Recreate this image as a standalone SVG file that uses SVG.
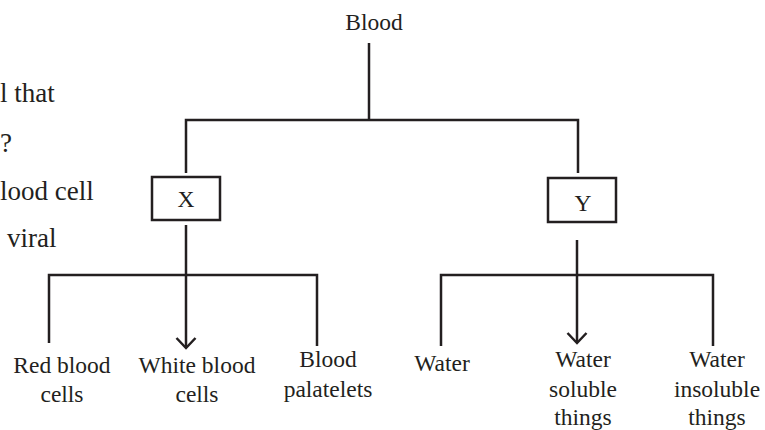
<svg xmlns="http://www.w3.org/2000/svg" width="765" height="430" viewBox="0 0 765 430">
<style>
text{font-family:'Liberation Serif','DejaVu Serif','Times New Roman',Times,serif;fill:#231f20}
.lb{font-size:23.5px;text-anchor:middle}
.side{font-size:27px}
.ln{stroke:#231f20;stroke-width:2.5;fill:none}
.box{stroke:#231f20;stroke-width:2.5;fill:#fff}
</style>
<defs>
<marker id="arr" viewBox="-12 -12 24 24" markerWidth="24" markerHeight="24" refX="0" refY="0" orient="auto" markerUnits="userSpaceOnUse">
<path d="M-10,-9.5 L0,0 L-10,9.5" fill="none" stroke="#231f20" stroke-width="2.5"/>
</marker>
</defs>
<rect width="765" height="430" fill="#fff"/>
<g id="side-text">
<text class="side" x="0" y="102" font-family="Liberation Serif, serif">l that</text>
<text class="side" x="0" y="152" font-family="Liberation Serif, serif">?</text>
<text class="side" x="0" y="200" font-family="Liberation Serif, serif">lood cell</text>
<text class="side" x="7" y="247" font-family="Liberation Serif, serif">viral</text>
</g>
<g id="connectors">
<line class="ln" x1="369" y1="43" x2="369" y2="120"/>
<polyline class="ln" points="186,173 186,120 578,120 578,173"/>
<line class="ln" x1="186" y1="225" x2="186" y2="348" marker-end="url(#arr)"/>
<polyline class="ln" points="49,343 49,275 317,275 317,346"/>
<line class="ln" x1="577" y1="240" x2="577" y2="343" marker-end="url(#arr)"/>
<polyline class="ln" points="441,346 441,275 713,275 713,346"/>
</g>
<g id="blood"><text class="lb" x="374" y="30">Blood</text></g>
<g id="X"><rect class="box" x="152" y="177" width="68" height="43"/><text class="lb" x="186" y="207">X</text></g>
<g id="Y"><rect class="box" x="548" y="178" width="68" height="44"/><text class="lb" x="583" y="211">Y</text></g>
<g id="rbc"><text class="lb" x="62" y="373">Red blood</text><text class="lb" x="62" y="402">cells</text></g>
<g id="wbc"><text class="lb" x="197" y="373">White blood</text><text class="lb" x="197" y="402">cells</text></g>
<g id="platelets"><text class="lb" x="328" y="367">Blood</text><text class="lb" x="328" y="397">palatelets</text></g>
<g id="water"><text class="lb" x="442" y="371">Water</text></g>
<g id="soluble"><text class="lb" x="583" y="367">Water</text><text class="lb" x="583" y="397">soluble</text><text class="lb" x="583" y="425">things</text></g>
<g id="insoluble"><text class="lb" x="717" y="367">Water</text><text class="lb" x="717" y="397">insoluble</text><text class="lb" x="717" y="425">things</text></g>
</svg>
